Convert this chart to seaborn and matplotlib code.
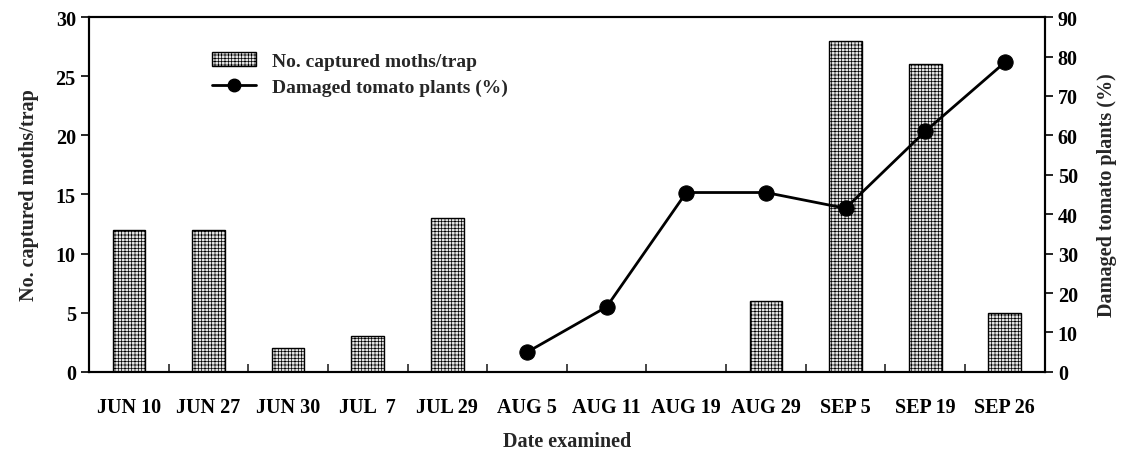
import matplotlib
matplotlib.use("Agg")
import matplotlib.pyplot as plt
import seaborn as sns
import numpy as np
import pandas as pd
from matplotlib.patches import Patch
from matplotlib.lines import Line2D
from matplotlib.ticker import FixedLocator

dates = ["JUN 10", "JUN 27", "JUN 30", "JUL  7", "JUL 29", "AUG 5", "AUG 11",
         "AUG 19", "AUG 29", "SEP 5", "SEP 19", "SEP 26"]
moths = [12, 12, 2, 3, 13, 0, 0, 0, 6, 28, 26, 5]
damaged = [np.nan, np.nan, np.nan, np.nan, np.nan, 5, 16.5, 45.5, 45.5, 41.5, 61, 78.5]

sns.set_style("white")
plt.rcParams['font.family'] = ['Liberation Serif', 'DejaVu Serif']
plt.rcParams['font.weight'] = 'bold'
plt.rcParams['hatch.color'] = '#a0a0a0'
plt.rcParams['hatch.linewidth'] = 0.5

fig = plt.figure(figsize=(11.33, 4.52), dpi=100)
ax = fig.add_axes([0.0786, 0.175, 0.8434, 0.785])

df = pd.DataFrame({"date": dates, "moths": moths, "pos": np.arange(len(dates)), "damaged": damaged})

sns.barplot(data=df, x="date", y="moths", ax=ax, color="#e4e4e4", width=0.41,
            edgecolor="black", linewidth=1.0, hatch="+++++", saturation=1)
ax.set_xlim(-0.5, len(dates) - 0.5)
ax.set_ylim(0, 30)
ax.set_yticks(range(0, 31, 5))

ax2 = ax.twinx()
sns.lineplot(data=df.dropna(), x="pos", y="damaged", ax=ax2, color="black", linewidth=2,
             marker="o", markersize=11, markeredgecolor="black")
ax2.set_ylim(0, 90)
ax2.set_yticks(range(0, 91, 10))
ax2.set_xlim(-0.5, len(dates) - 0.5)

for a in (ax, ax2):
    for s in a.spines.values():
        s.set_color("black")
        s.set_linewidth(1.5)

ax.tick_params(axis="y", direction="out", length=6, width=1.2, labelsize=14.5, colors="black", left=True)
ax2.tick_params(axis="y", direction="out", length=6, width=1.2, labelsize=14.5, colors="black", right=True)
ax.tick_params(axis="x", which="major", length=0, labelsize=14.5, pad=18, colors="black")
ax.xaxis.set_minor_locator(FixedLocator(np.arange(0.5, len(dates) - 1, 1.0)))
ax.tick_params(axis="x", which="minor", direction="in", length=6, width=1.2, bottom=True)

for lab in ax.get_xticklabels() + ax.get_yticklabels() + ax2.get_yticklabels():
    lab.set_fontweight("bold")

ax.set_xlabel("Date examined", fontsize=14.5, fontweight="bold", labelpad=10)
ax.set_ylabel("No. captured moths/trap", fontsize=14.5, fontweight="bold", labelpad=12)
ax2.set_ylabel("Damaged tomato plants (%)", fontsize=14.5, fontweight="bold", labelpad=14)

handles = [Patch(facecolor="#e4e4e4", edgecolor="black", hatch="+++++", linewidth=1.0),
           Line2D([0], [0], color="black", linewidth=2, marker="o", markersize=9)]
labels = ["No. captured moths/trap", "Damaged tomato plants (%)"]
leg = ax2.legend(handles, labels, loc="upper left", bbox_to_anchor=(0.11, 0.95), frameon=False,
                 prop={"family": "Liberation Serif", "weight": "bold", "size": 14},
                 handlelength=2.3, labelspacing=0.45)

fig.savefig("out.png", dpi=100)
